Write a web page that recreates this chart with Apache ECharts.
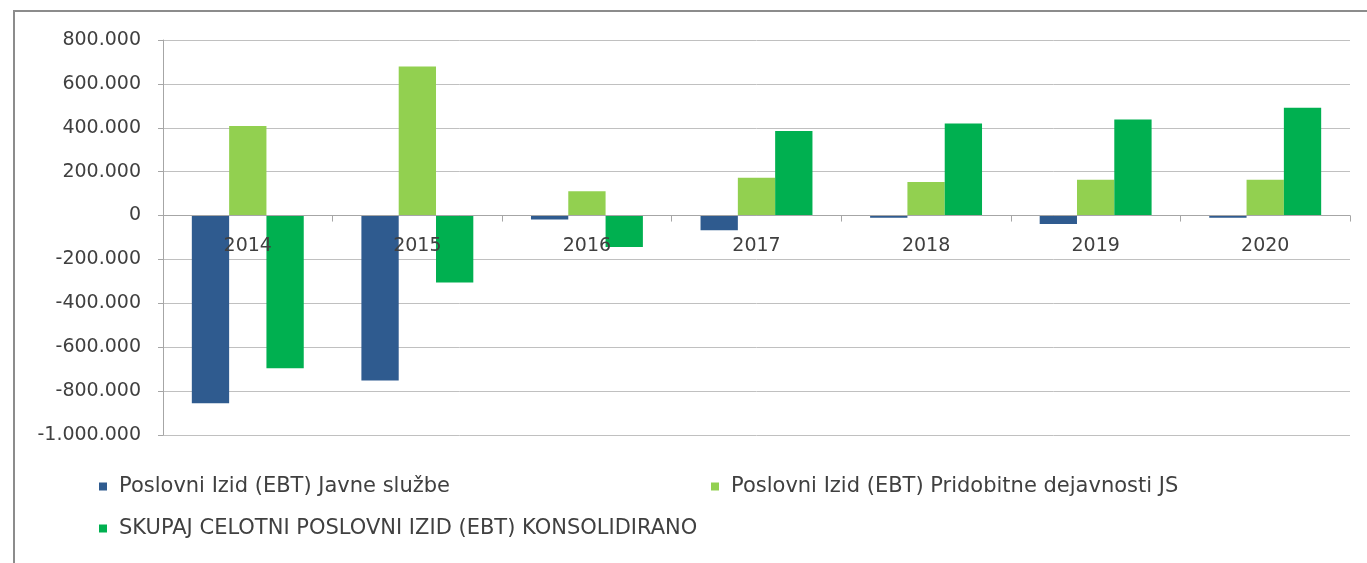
<!DOCTYPE html>
<html>
<head>
<meta charset="utf-8">
<script src="https://cdn.jsdelivr.net/npm/echarts@6/dist/echarts.min.js"></script>
<style>
  html, body { margin: 0; padding: 0; background: #fff; }
  #frame { position: absolute; left: 13px; top: 10px; width: 1400px; height: 600px;
           border-left: 2px solid #8c8c8c; border-top: 2px solid #8c8c8c; }
  #chart { position: absolute; left: 0; top: 0; width: 1367px; height: 563px; }
</style>
</head>
<body>
<div id="frame"></div>
<div id="chart"></div>
<script>
// ---------------- podatki ----------------
var years = ['2014', '2015', '2016', '2017', '2018', '2019', '2020'];
var seriesNames = [
  'Poslovni Izid (EBT) Javne službe',
  'Poslovni Izid (EBT) Pridobitne dejavnosti JS',
  'SKUPAJ CELOTNI POSLOVNI IZID (EBT) KONSOLIDIRANO'
];
var javneSluzbe = [-855000, -752000, -18000, -67000, -10000, -38000, -10000];
var pridobitne  = [408000, 679000, 111000, 172000, 153000, 163000, 163000];
var skupaj      = [-696000, -305000, -143000, 385000, 420000, 438000, 491000];
var colors = ['#2f5b8f', '#92d050', '#00b050'];

var font = 'DejaVu Sans';
var textColor = '#404040';

// y os: -1.000.000 .. 800.000, grid 395px visok -> nicla je 219.4px nad dnom
var yMin = -1000000, yMax = 800000;
var gridH = 395;
var zeroOffset = gridH * (0 - yMin) / (yMax - yMin);

function fmt(v) {
  var s = Math.abs(v).toString().replace(/\B(?=(\d{3})+(?!\d))/g, '.');
  return (v < 0 ? '-' : '') + s;
}

function legend(i, left, top) {
  return {
    data: [seriesNames[i]],
    left: left, top: top,
    icon: 'rect', itemWidth: 8, itemHeight: 8,
    padding: 0,
    selectedMode: false,
    textStyle: { color: textColor, fontFamily: font, fontSize: 21, padding: [0, 0, 0, 7] }
  };
}

var option = {
  animation: false,
  backgroundColor: 'transparent',
  grid: { left: 163, right: 17, top: 40, height: gridH },
  legend: [
    legend(0, 99, 476),
    legend(1, 711, 476),
    legend(2, 99, 518)
  ],
  xAxis: {
    type: 'category',
    data: years,
    z: 5,
    offset: -zeroOffset,
    axisLine: { onZero: false, lineStyle: { color: '#a6a6a6', width: 1 } },
    axisTick: { show: true, length: 6, lineStyle: { color: '#a6a6a6' } },
    axisLabel: { color: textColor, fontFamily: font, fontSize: 19, margin: 21 }
  },
  yAxis: {
    type: 'value',
    min: yMin, max: yMax, interval: 200000,
    axisLine: { show: true, lineStyle: { color: '#a6a6a6' } },
    axisTick: { show: true, length: 5, lineStyle: { color: '#a6a6a6' } },
    splitLine: { lineStyle: { color: '#c0c0c0', width: 1 } },
    axisLabel: { color: textColor, fontFamily: font, fontSize: 19, margin: 22, formatter: fmt }
  },
  series: [
    { name: seriesNames[0], type: 'bar', data: javneSluzbe, itemStyle: { color: colors[0] },
      barGap: '0%', barCategoryGap: '34%' },
    { name: seriesNames[1], type: 'bar', data: pridobitne, itemStyle: { color: colors[1] } },
    { name: seriesNames[2], type: 'bar', data: skupaj, itemStyle: { color: colors[2] } }
  ]
};

echarts.init(document.getElementById('chart')).setOption(option);
</script>
</body>
</html>
